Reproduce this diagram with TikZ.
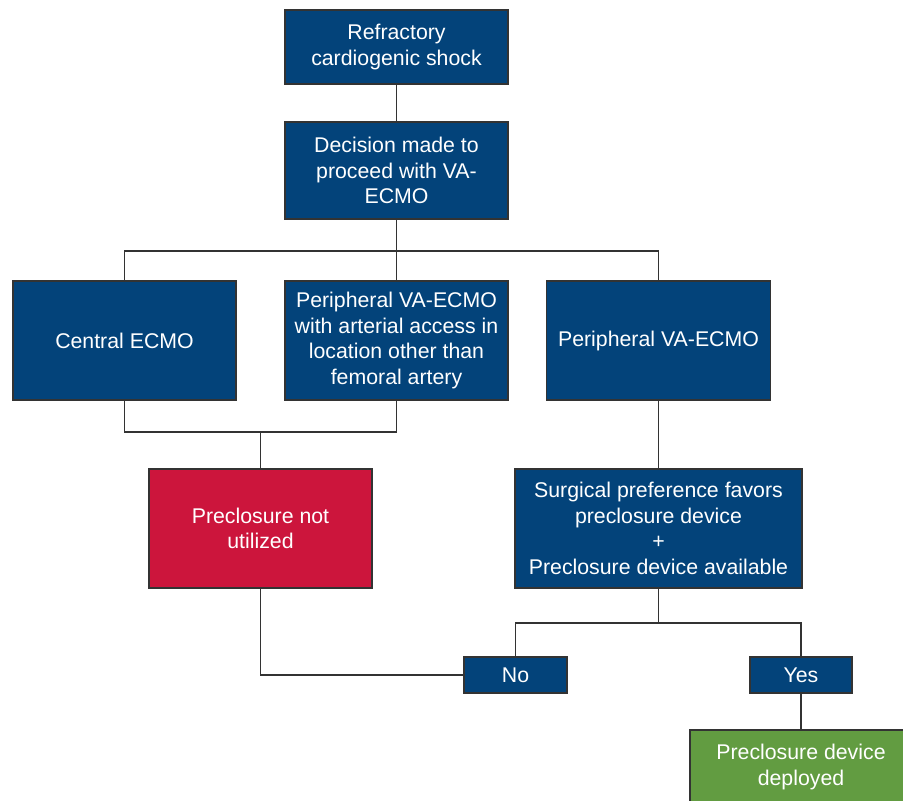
\documentclass[tikz,border=0pt]{standalone}
\usepackage{fontspec}
\setmainfont{Liberation Sans}
\definecolor{navy}{HTML}{03437A}
\definecolor{crimson}{HTML}{CC153C}
\definecolor{leaf}{HTML}{629C41}
\definecolor{edge}{HTML}{333333}
\begin{document}
\begin{tikzpicture}[x=1pt,y=-1pt,
  box/.style={draw=edge, line width=1.5pt, fill=navy, text=white, align=center,
    inner sep=0pt, font=\fontsize{21.3}{25.5}\selectfont},
  conn/.style={draw=edge, line width=1.5pt}]
\path[use as bounding box] (0,0) rectangle (903,801);
\node[box, minimum width=223pt, minimum height=74pt] (top) at (396.5,47) {Refractory\\cardiogenic shock};
\node[box, minimum width=223pt, minimum height=97pt] (dec) at (396.5,170.5) {Decision made to\\proceed with VA-\\ECMO};
\node[box, minimum width=223pt, minimum height=119pt] (central) at (124.5,340.5) {Central ECMO};
\node[box, minimum width=223pt, minimum height=119pt] (periphother) at (396.5,340.5) {Peripheral VA-ECMO\\with arterial access in\\location other than\\femoral artery};
\node[box, minimum width=224pt, minimum height=119pt] (periph) at (658.5,340.5) {Peripheral VA-ECMO};
\node[box, fill=crimson, minimum width=223pt, minimum height=119pt] (notutil) at (260.5,528.5) {Preclosure not\\utilized};
\node[box, minimum width=287pt, minimum height=119pt] (surg) at (658.5,528.5) {Surgical preference favors\\preclosure device\\+\\Preclosure device available};
\node[box, minimum width=103pt, minimum height=36pt] (no) at (515.5,675) {No};
\node[box, minimum width=102pt, minimum height=36pt] (yes) at (801,675) {Yes};
\node[box, fill=leaf, minimum width=222pt, minimum height=74pt] (deployed) at (801,767) {Preclosure device\\deployed};
\coordinate (split) at (396.5,251);
\coordinate (merge) at (260.5,432);
\coordinate (split2) at (658.5,623);
\draw[conn] (top) -- (dec);
\draw[conn] (dec) -- (periphother);
\draw[conn] (central.north) |- (split) -| (periph.north);
\draw[conn] (central.south) |- (merge) -| (periphother.south);
\draw[conn] (merge) -- (notutil);
\draw[conn] (periph) -- (surg);
\draw[conn] (surg.south) -- (split2);
\draw[conn] (no.north) |- (split2) -| (yes.north);
\draw[conn] (notutil.south) |- (no.west);
\draw[conn] (yes) -- (deployed);
\end{tikzpicture}
\end{document}
